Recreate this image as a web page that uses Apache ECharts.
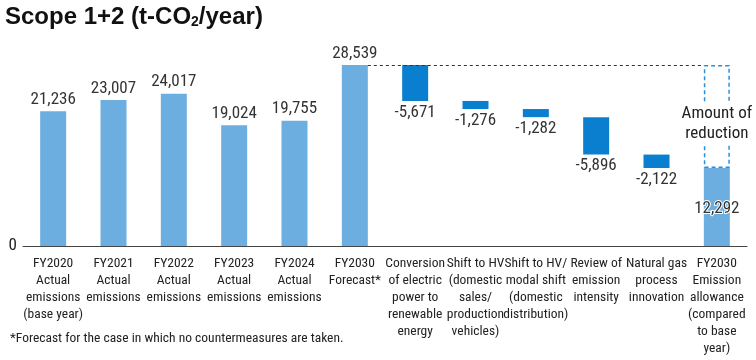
<!DOCTYPE html>
<html>
<head>
<meta charset="utf-8">
<script src="https://cdn.jsdelivr.net/npm/echarts@6/dist/echarts.min.js"></script>
<style>
html,body{margin:0;padding:0;background:#fff;}
#chart{width:756px;height:360px;}
</style>
</head>
<body>
<div id="chart"></div>
<script>
var categories = [
  'FY2020\nActual\nemissions\n(base year)',
  'FY2021\nActual\nemissions',
  'FY2022\nActual\nemissions',
  'FY2023\nActual\nemissions',
  'FY2024\nActual\nemissions',
  'FY2030\nForecast*',
  'Conversion\nof electric\npower to\nrenewable\nenergy',
  'Shift to HV\n(domestic\nsales/\nproduction\nvehicles)',
  'Shift to HV/\nmodal shift\n(domestic\ndistribution)',
  'Review of\nemission\nintensity',
  'Natural gas\nprocess\ninnovation',
  'FY2030\nEmission\nallowance\n(compared\nto base\nyear)'
];
var actualValues = [21236, 23007, 24017, 19024, 19755, 28539];
var reductions = [-5671, -1276, -1282, -5896, -2122];
var allowance = 12292;
var yTicks = [0];

var FONT = "'Roboto Condensed', 'DejaVu Sans Condensed', sans-serif";
var LIGHT = '#6daee1';
var DARK = '#0a7fd0';
var BOXBLUE = '#2b90d9';

function fmt(v){ return v.toLocaleString('en-US'); }

var n = categories.length;
var baseArr = [], actArr = [], redArr = [], allowArr = [], gapArr = [];
for (var i = 0; i < n; i++) { baseArr.push(0); actArr.push('-'); redArr.push('-'); allowArr.push('-'); gapArr.push('-'); }
for (var i = 0; i < actualValues.length; i++) actArr[i] = actualValues[i];
var level = actualValues[actualValues.length - 1];
var forecast = level;
for (var j = 0; j < reductions.length; j++) {
  var idx = actualValues.length + j;
  level = level + reductions[j];
  baseArr[idx] = level;
  redArr[idx] = -reductions[j];
}
allowArr[n - 1] = allowance;
gapArr[n - 1] = forecast - allowance;

var chart = echarts.init(document.getElementById('chart'));
var barW = 26;
var option = {
  animation: false,
  textStyle: { fontFamily: FONT },
  title: {
    left: 0, top: 0,
    text: '{a|Scope 1+2 (t-CO}{s|2}{a|/year)}',
    textStyle: {
      rich: {
        a: { fontFamily: "'Liberation Sans', Arial, sans-serif", fontWeight: 'bold', fontSize: 24, color: '#111' },
        s: { fontFamily: "'Liberation Sans', Arial, sans-serif", fontWeight: 'bold', fontSize: 14, color: '#111', verticalAlign: 'bottom', padding: [10, 0, 0, 0] }
      }
    }
  },
  grid: { left: 23, right: 9, top: 55.7, bottom: 114 },
  xAxis: {
    type: 'category',
    data: categories,
    axisTick: { show: false },
    axisLine: { lineStyle: { color: '#444', width: 1 } },
    axisLabel: { interval: 0, margin: 9, fontFamily: FONT, fontSize: 13.5, lineHeight: 17, color: '#222', verticalAlign: 'top' }
  },
  yAxis: {
    type: 'value', min: 0, max: 30000, interval: 30000,
    splitLine: { show: false },
    axisLine: { show: false },
    axisTick: { show: false },
    axisLabel: {
      fontFamily: FONT, fontSize: 17, color: '#222', margin: 6,
      formatter: function (v) { return yTicks.indexOf(v) >= 0 ? String(v) : ''; }
    }
  },
  series: [
    { type: 'bar', stack: 'w', barWidth: barW, data: baseArr, itemStyle: { color: 'rgba(0,0,0,0)' }, silent: true },
    { type: 'bar', stack: 'w', barWidth: barW, data: actArr, itemStyle: { color: LIGHT },
      label: { show: true, position: 'top', distance: 3, fontFamily: FONT, fontSize: 17, color: '#333',
        formatter: function (p) { return fmt(p.value); } } },
    { type: 'bar', stack: 'w', barWidth: barW, data: redArr, itemStyle: { color: DARK },
      label: { show: true, position: 'bottom', distance: 3, fontFamily: FONT, fontSize: 17, color: '#333',
        formatter: function (p) { return fmt(-p.value); } } },
    { type: 'bar', stack: 'w', barWidth: barW, data: allowArr, itemStyle: { color: LIGHT },
      label: { show: true, position: 'insideTop', distance: 32, fontFamily: FONT, fontSize: 17, color: '#333',
        textBorderColor: '#fff', textBorderWidth: 2,
        formatter: function (p) { return fmt(p.value); } } },
    { type: 'bar', stack: 'w', barWidth: barW, data: gapArr,
      itemStyle: { color: 'rgba(0,0,0,0)', borderColor: BOXBLUE, borderWidth: 1.5, borderType: [4, 3] },
      label: { show: true, position: 'inside', offset: [0, 7], fontFamily: FONT, fontSize: 17, lineHeight: 20, color: '#222',
        backgroundColor: '#fff', padding: [0, 1],
        formatter: function () { return 'Amount of\nreduction'; } } },
    { type: 'custom', silent: true, z: 5,
      data: [[actualValues.length - 1, n - 1, forecast]],
      renderItem: function (params, api) {
        var p1 = api.coord([api.value(0), api.value(2)]);
        var p2 = api.coord([api.value(1), api.value(2)]);
        return { type: 'line', shape: { x1: p1[0] + barW / 2, y1: Math.round(p1[1]) + 0.5, x2: p2[0] - barW / 2, y2: Math.round(p2[1]) + 0.5 },
          style: { stroke: '#333', lineWidth: 1, lineDash: [3, 3] } };
      }
    }
  ],
  graphic: [
    { type: 'text', left: 10, top: 332, style: { text: '*Forecast for the case in which no countermeasures are taken.', fontFamily: FONT, fontSize: 13.5, fill: '#222' } }
  ]
};
chart.setOption(option);
</script>
</body>
</html>
